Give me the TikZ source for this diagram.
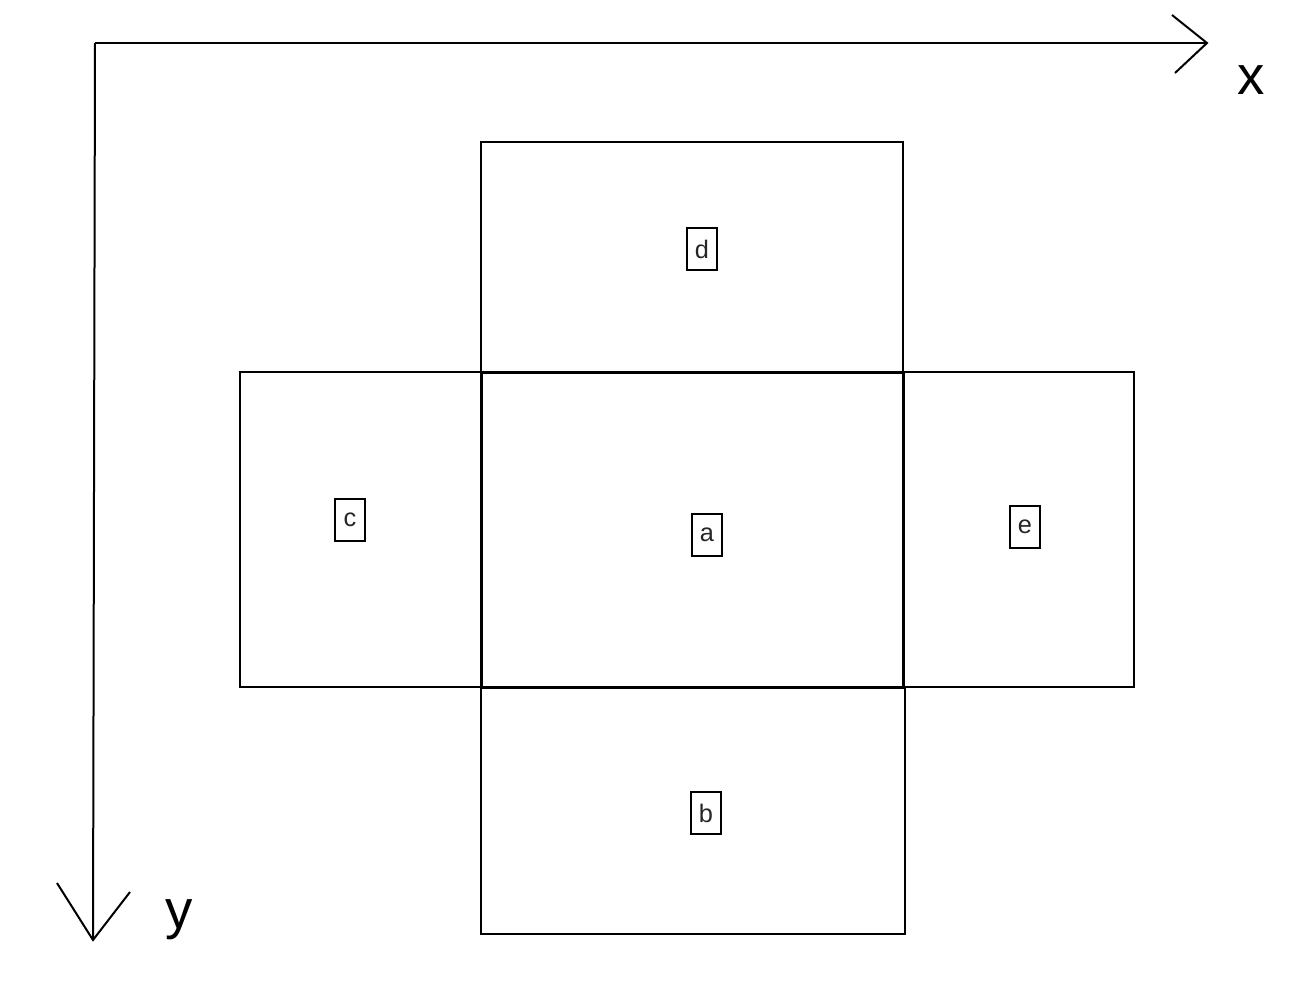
\documentclass[tikz,border=0pt]{standalone}
\usepackage{fontspec}
\setmainfont{Liberation Sans}
\begin{document}
\begin{tikzpicture}[x=0.75pt,y=-0.75pt,
  thin line/.style={line width=1.5pt,black},
  face/.style={draw,line width=1.5pt},
  mainface/.style={draw,line width=2.25pt},
  tag/.style={draw,line width=1.5pt,minimum width=23pt,minimum height=31pt,inner sep=0pt,font=\fontsize{19}{22}\selectfont,text=black!85},
  axlabel/.style={font=\fontsize{41}{46}\selectfont,inner sep=0pt}]
\useasboundingbox (0,0) rectangle (1304,988);
% faces
\draw[face] (481,142) rectangle (903,372);
\draw[face] (240,372) rectangle (481,687);
\draw[face] (903,372) rectangle (1134,687);
\draw[face] (481,687) rectangle (905,934);
\draw[mainface] (481,372) rectangle (903,687);
% labels
\node[tag] (d) at (702,249) {d};
\node[tag] (a) at (707,535) {a};
\node[tag] (c) at (350,520) {c};
\node[tag] (e) at (1025,527) {e};
\node[tag] (b) at (706,813) {b};
% axes
\coordinate (O) at (95,43);
\coordinate (X) at (1207,43);
\coordinate (Y) at (93,940);
\draw[thin line] (O) -- (X);
\draw[thin line,line join=miter] (1172,15) -- (X) -- (1175,73);
\draw[thin line] (O) -- (Y);
\draw[thin line,line join=miter] (57,883) -- (Y) -- (130,892);
\node[axlabel] (xl) at (1251,80) {x};
\node[axlabel] (yl) at (179,920) {y};
\end{tikzpicture}
\end{document}
